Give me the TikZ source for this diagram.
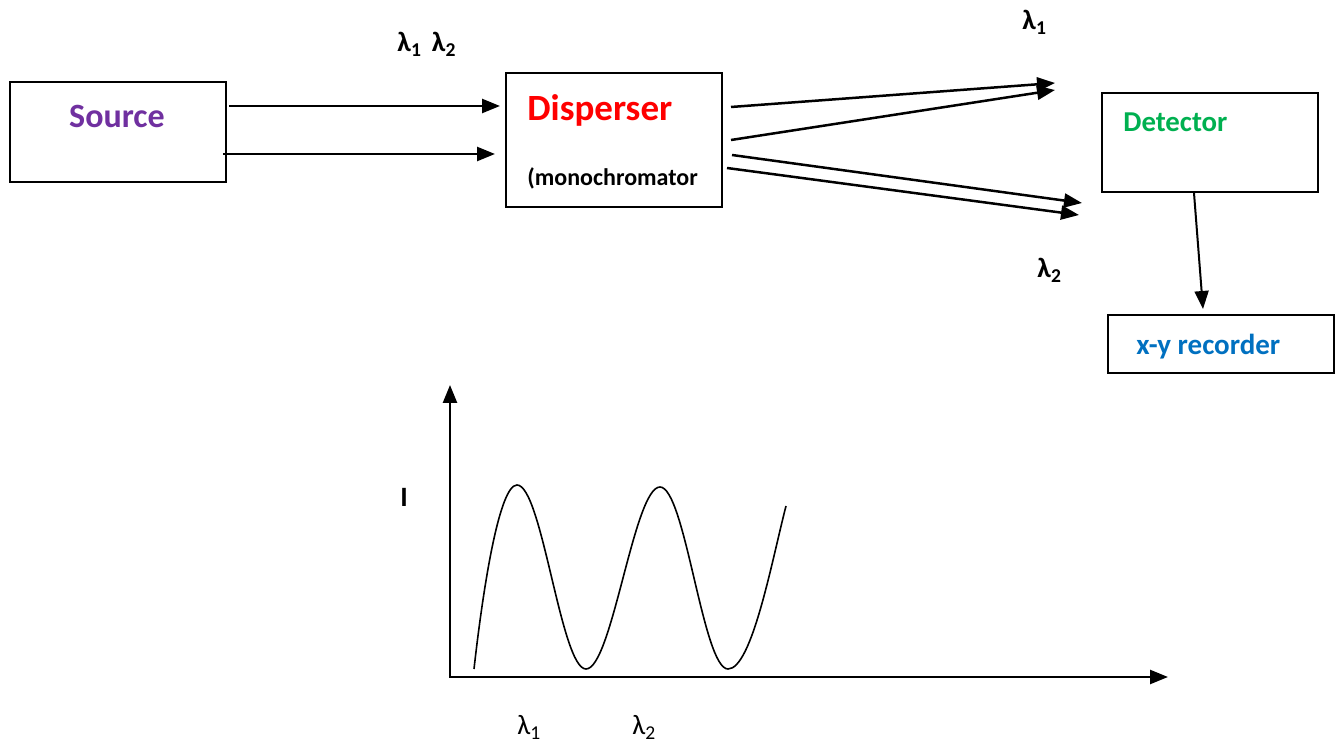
\documentclass[tikz,border=0pt]{standalone}
\usepackage{fontspec}
\setmainfont{Carlito}
\usetikzlibrary{arrows.meta}
\definecolor{srcpurple}{HTML}{7030A0}
\definecolor{dispred}{HTML}{FF0000}
\definecolor{detgreen}{HTML}{00B050}
\definecolor{recblue}{HTML}{0070C0}
\tikzset{
  box/.style={draw=black, line width=1pt, inner sep=0pt, fill=none},
  arr/.style={line width=1.25pt, -{Triangle[length=9pt,width=7pt]}},
  lbl/.style={inner sep=0pt, anchor=base west},
  axis/.style={line width=1.25pt, -{Triangle[length=9pt,width=7pt]}}
}
\begin{document}
\begin{tikzpicture}[x=0.5pt,y=-0.5pt]
\useasboundingbox (0,0) rectangle (1335,742);
% boxes
\node[box, minimum width=108pt, minimum height=50pt] (src) at (118,132) {};
\node[box, minimum width=108pt, minimum height=67pt] (disp) at (614,140) {};
\node[box, minimum width=108pt, minimum height=49.5pt] (det) at (1210,142.5) {};
\node[box, minimum width=113pt, minimum height=29pt] (rec) at (1221,344) {};
% box texts
\node[inner sep=0pt, text=srcpurple, font=\fontsize{17}{20}\selectfont\bfseries] (srct) at (117,116) {Source};
\node[lbl, text=dispred, font=\fontsize{18.5}{22}\selectfont\bfseries] (dispt) at (527,121) {Disperser};
\node[lbl, font=\fontsize{12}{14}\selectfont\bfseries] (monot) at (527,186) {(monochromator};
\node[lbl, text=detgreen, font=\fontsize{14.4}{17}\selectfont\bfseries] (dett) at (1123,132) {Detector};
\node[lbl, text=recblue, font=\fontsize{14.5}{17}\selectfont\bfseries] (rect) at (1136,355) {x-y recorder};
% lambda labels
\node[lbl, font=\fontsize{14}{16}\selectfont\bfseries] (l12) at (397,52) {λ\textsubscript{1}\hspace{5pt}λ\textsubscript{2}};
\node[lbl, font=\fontsize{14}{16}\selectfont\bfseries] (l1) at (1022,30) {λ\textsubscript{1}};
\node[lbl, font=\fontsize{14}{16}\selectfont\bfseries] (l2) at (1037,278) {λ\textsubscript{2}};
% arrow endpoints
\coordinate (a1s) at (229,106); \coordinate (a1e) at (500,106);
\coordinate (a2s) at (223,154); \coordinate (a2e) at (495,154);
\coordinate (b1s) at (731,107); \coordinate (b1e) at (1055,83);
\coordinate (b2s) at (731,140); \coordinate (b2e) at (1055,90);
\coordinate (b3s) at (732,155); \coordinate (b3e) at (1082,203);
\coordinate (b4s) at (727,168); \coordinate (b4e) at (1079,215);
\coordinate (ds) at (1194,193); \coordinate (re) at (1203,309);
\draw[arr] (a1s) -- (a1e);
\draw[arr] (a2s) -- (a2e);
\draw[arr] (b1s) -- (b1e);
\draw[arr] (b2s) -- (b2e);
\draw[arr] (b3s) -- (b3e);
\draw[arr] (b4s) -- (b4e);
\draw[arr, line width=1pt] (ds) -- (re);
% graph
\coordinate (orig) at (450,677);
\coordinate (ytop) at (450,385);
\coordinate (xend) at (1168,677);
\draw[axis] (450,676) -- (ytop);
\draw[axis] (449,677) -- (xend);
\draw[line width=0.8pt] (474,669)
  .. controls (484,580) and (500,485) .. (517,485)
  .. controls (542,485) and (561,669) .. (586,669)
  .. controls (612,669) and (634,487) .. (660,487)
  .. controls (685,487) and (703,669) .. (728,669)
  .. controls (752,669) and (772,560) .. (786,506);
\node[lbl, font=\fontsize{14}{16}\selectfont\bfseries] (ilab) at (400,507) {I};
\node[lbl, font=\fontsize{14}{16}\selectfont] (g1) at (517,735) {λ\textsubscript{1}};
\node[lbl, font=\fontsize{14}{16}\selectfont] (g2) at (632,735) {λ\textsubscript{2}};
\end{tikzpicture}
\end{document}
